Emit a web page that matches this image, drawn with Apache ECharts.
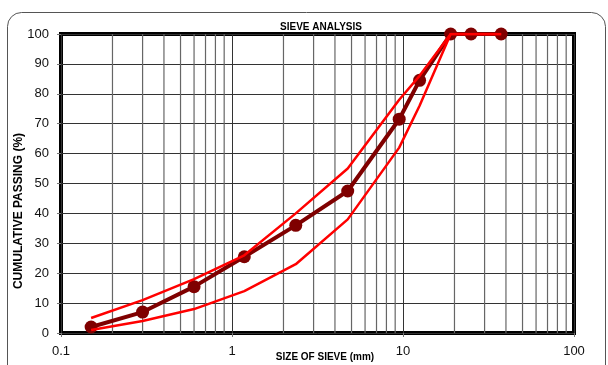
<!DOCTYPE html>
<html>
<head>
<meta charset="utf-8">
<script src="https://cdn.jsdelivr.net/npm/echarts@6/dist/echarts.min.js"></script>
<style>
  html, body { margin: 0; padding: 0; background: #fff; }
  #chart { width: 608px; height: 365px; }
</style>
</head>
<body>
<div id="chart"></div>
<script>
// ---- data ----
const sieveSizes = [0.15, 0.3, 0.6, 1.18, 2.36, 4.75, 9.5, 12.5, 19, 25, 37.5];
const passing    = [2, 7, 15.5, 25.5, 36, 47.5, 71.5, 84.5, 100, 100, 100];
const upperLimit = [5, 11, 18, 26, 40, 55, 78, 86, 100, 100, 100];
const lowerLimit = [1, 4, 8, 14, 23, 38, 62, 76, 100, 100, 100];
const xTickLabels = ['0.1', '1', '10', '100'];
const yTicks = [0, 10, 20, 30, 40, 50, 60, 70, 80, 90, 100];

const FONT = '"Liberation Sans", Arial, sans-serif';

// minor log grid positions (2..9 in each decade)
const minorGrid = [];
[0.1, 1, 10].forEach(d => { for (let k = 2; k <= 9; k++) minorGrid.push([+(k * d).toPrecision(3), 0]); });

const zip = (xs, ys) => xs.map((x, i) => [x, ys[i]]);

const chart = echarts.init(document.getElementById('chart'), null, { renderer: 'canvas' });
chart.setOption({
  animation: false,
  backgroundColor: '#fff',
  grid: { left: 61, right: 34, top: 34, bottom: 32, show: true, borderColor: '#000', borderWidth: 4 },
  xAxis: {
    type: 'log', logBase: 10, min: 0.1, max: 100,
    axisLine: { show: false },
    axisTick: { show: true, length: 4, lineStyle: { color: '#777' } },
    axisLabel: {
      fontFamily: FONT, fontSize: 13, color: '#111', margin: 12,
      showMinLabel: true, showMaxLabel: true,
      formatter: v => { const i = Math.round(Math.log10(v)) + 1; return xTickLabels[i] ?? String(v); }
    },
    splitLine: { show: true, lineStyle: { color: '#333', width: 1 } },
    minorSplitLine: { show: false }
  },
  yAxis: {
    type: 'value', min: yTicks[0], max: yTicks[yTicks.length - 1], interval: 10,
    axisLine: { show: false },
    axisTick: { show: true, length: 4, lineStyle: { color: '#777' } },
    axisLabel: { fontFamily: FONT, fontSize: 13, color: '#111', margin: 12 },
    splitLine: { show: true, lineStyle: { color: '#333', width: 1 } }
  },
  graphic: [
    { type: 'rect', z: -10, silent: true,
      shape: { x: 7.5, y: 12.5, width: 598, height: 372, r: 14 },
      style: { fill: 'none', stroke: '#555', lineWidth: 1 } },
    { type: 'text', x: 321, y: 27, silent: true,
      style: { text: 'SIEVE ANALYSIS', fontFamily: FONT, fontWeight: 'bold', fontSize: 10,
               fill: '#000', align: 'center', verticalAlign: 'middle' } },
    { type: 'text', x: 325, y: 357, silent: true,
      style: { text: 'SIZE OF SIEVE (mm)', fontFamily: FONT, fontWeight: 'bold', fontSize: 10,
               fill: '#000', align: 'center', verticalAlign: 'middle' } },
    { type: 'text', x: 19, y: 211, rotation: Math.PI / 2, silent: true,
      style: { text: 'CUMULATIVE PASSING (%)', fontFamily: FONT, fontWeight: 'bold', fontSize: 12,
               fill: '#000', align: 'center', verticalAlign: 'middle' } }
  ],
  series: [
    {
      type: 'custom', silent: true, z: 1,
      data: minorGrid,
      encode: { x: 0, y: 1 },
      renderItem: (params, api) => {
        const v = api.value(0);
        const p1 = api.coord([v, 0]);
        const p2 = api.coord([v, 100]);
        return { type: 'line', shape: { x1: p1[0], y1: p1[1], x2: p2[0], y2: p2[1] },
                 style: { stroke: '#666', lineWidth: 1.2 } };
      }
    },
    {
      name: 'Sample', type: 'line', z: 3,
      data: zip(sieveSizes, passing),
      symbol: 'circle', symbolSize: 13,
      lineStyle: { color: '#7f0000', width: 4 },
      itemStyle: { color: '#7f0000' }
    },
    {
      name: 'Upper limit', type: 'line', z: 4,
      data: zip(sieveSizes, upperLimit),
      symbol: 'none',
      lineStyle: { color: '#ff0000', width: 2.5 }
    },
    {
      name: 'Lower limit', type: 'line', z: 4,
      data: zip(sieveSizes, lowerLimit),
      symbol: 'none',
      lineStyle: { color: '#ff0000', width: 2.5 }
    }
  ]
});
</script>
</body>
</html>
